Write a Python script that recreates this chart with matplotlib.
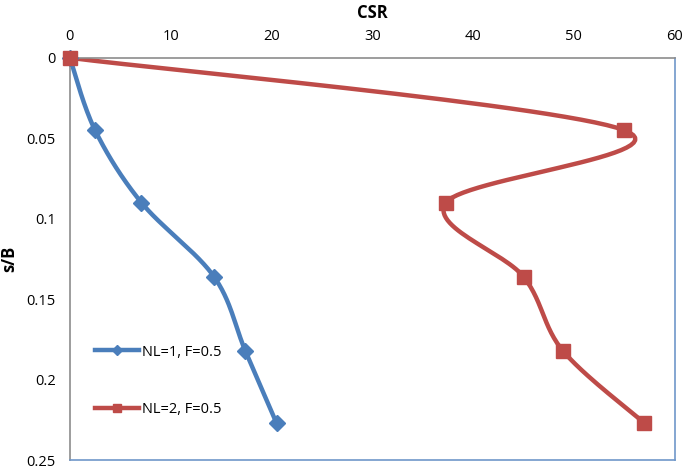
import numpy as np
import matplotlib
matplotlib.use("Agg")
import matplotlib.pyplot as plt

# data
sb = [0, 0.045, 0.09, 0.136, 0.182, 0.227]
csr_nl1 = [0, 2.5, 7.1, 14.3, 17.4, 20.5]
csr_nl2 = [0, 55.0, 37.3, 45.0, 48.9, 57.0]
labels = ["NL=1, F=0.5", "NL=2, F=0.5"]

plt.rcParams['font.family'] = ['Open Sans', 'DejaVu Sans']


def smooth(x, y, n=30):
    # catmull-rom style curve through the points (like Excel's smoothed line)
    p = np.column_stack([x, y]).astype(float)
    p = np.vstack([p[0], p, p[-1]])
    out = []
    for i in range(1, len(p) - 2):
        p0, p1, p2, p3 = p[i - 1], p[i], p[i + 1], p[i + 2]
        c1 = p1 + (p2 - p0) / 6
        c2 = p2 - (p3 - p1) / 6
        t = np.linspace(0, 1, n)[:, None]
        seg = (1 - t) ** 3 * p1 + 3 * (1 - t) ** 2 * t * c1 + 3 * (1 - t) * t ** 2 * c2 + t ** 3 * p2
        out.append(seg if i == 1 else seg[1:])
    out = np.vstack(out)
    return out[:, 0], out[:, 1]


fig = plt.figure(figsize=(6.85, 4.7), dpi=100)
ax = fig.add_axes([0.102, 0.021, 0.883, 0.856])

blue = '#4A7EBB'
red = '#BE4B48'

for xs, c, m, ms, lab in [(csr_nl1, blue, 'D', 8, labels[0]), (csr_nl2, red, 's', 10, labels[1])]:
    sx, sy = smooth(xs, sb)
    ax.plot(sx, sy, color=c, lw=3.2, solid_capstyle='round')
    ax.plot(xs, sb, ls='none', marker=m, ms=ms, color=c, clip_on=False, zorder=5)
    ax.plot([], [], color=c, lw=3.2, marker=m, ms=ms * 0.6, label=lab)

ax.set_xlim(0, 60)
ax.set_ylim(0.25, 0)
ax.xaxis.tick_top()
ax.xaxis.set_label_position('top')
ax.set_xticks(range(0, 61, 10))
ax.set_yticks([0, 0.05, 0.1, 0.15, 0.2, 0.25])
ax.set_yticklabels(['0', '0.05', '0.1', '0.15', '0.2', '0.25'])
ax.tick_params(length=0, labelsize=10.5, pad=10)
ax.set_xlabel('CSR', fontweight='bold', fontsize=12, labelpad=8)
ax.set_ylabel('s/B', fontweight='bold', fontsize=12, labelpad=6)

ax.spines['left'].set_color('#8c8c8c')
ax.spines['top'].set_color('#8c8c8c')
ax.spines['right'].set_color('#6f97c9')
ax.spines['bottom'].set_color('#6f97c9')
for s in ax.spines.values():
    s.set_linewidth(1.2)

ax.legend(loc='lower left', bbox_to_anchor=(0.02, 0.075), frameon=False,
          fontsize=10.5, labelspacing=2.9, handlelength=3.0, handletextpad=0.2)

fig.savefig('out.png', dpi=100)
